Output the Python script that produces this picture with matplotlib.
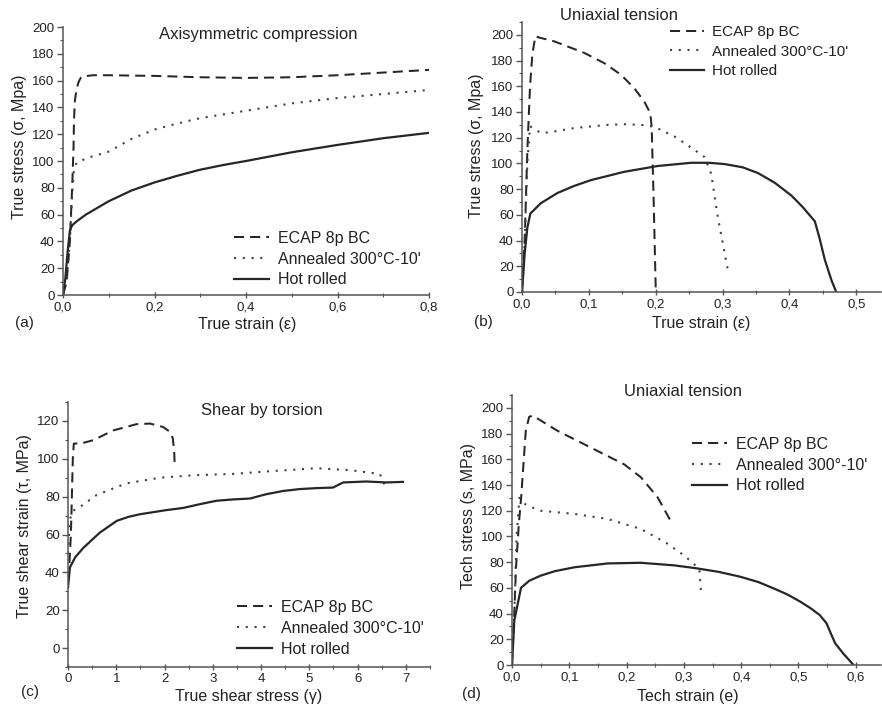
import matplotlib
matplotlib.use("Agg")
import matplotlib.pyplot as plt
from matplotlib.ticker import MultipleLocator, FuncFormatter

plt.rcParams['font.family'] = ['Liberation Sans', 'DejaVu Sans']

# ---------------- data ----------------
labels_abc = ["ECAP 8p BC", "Annealed 300°C-10'", "Hot rolled"]
labels_d = ["ECAP 8p BC", "Annealed 300°-10'", "Hot rolled"]

# (a) Axisymmetric compression
a_ecap_x = [0.0, 0.008, 0.015, 0.02, 0.023, 0.024, 0.026, 0.029, 0.033, 0.037, 0.041, 0.066, 0.1, 0.2, 0.3, 0.4, 0.5, 0.6, 0.7, 0.8]
a_ecap_y = [0, 10, 40, 80, 110, 130, 145, 152, 158, 161, 163, 164, 164, 163.5, 162.5, 162, 162.5, 164, 166, 168]
a_ann_x = [0.0, 0.008, 0.015, 0.02, 0.024, 0.03, 0.06, 0.1, 0.15, 0.2, 0.25, 0.3, 0.4, 0.5, 0.6, 0.7, 0.8]
a_ann_y = [0, 10, 40, 75, 94, 99, 103, 107, 116.5, 123.5, 128, 132, 137.5, 143, 147, 150, 153]
a_hr_x = [0.0, 0.005, 0.01, 0.015, 0.02, 0.03, 0.05, 0.075, 0.1, 0.15, 0.2, 0.25, 0.3, 0.35, 0.4, 0.5, 0.6, 0.7, 0.8]
a_hr_y = [0, 12, 32, 48, 52, 55, 60, 65, 70, 78, 84, 89, 93.5, 97, 100, 106.5, 112, 117, 121]

# (b) Uniaxial tension, true
b_ecap_x = [0.0, 0.004, 0.008, 0.012, 0.0155, 0.02, 0.025, 0.048, 0.093, 0.123, 0.148, 0.168, 0.183, 0.192, 0.194, 0.197, 0.2]
b_ecap_y = [0, 40, 110, 160, 185, 199, 198, 195, 186, 178, 169, 158.5, 148, 139, 128, 70, 3]
b_ann_x = [0.0, 0.004, 0.008, 0.012, 0.02, 0.03, 0.05, 0.078, 0.128, 0.153, 0.178, 0.198, 0.228, 0.258, 0.273, 0.283, 0.293, 0.308]
b_ann_y = [0, 40, 100, 129, 126, 123.5, 125, 127.5, 130, 130.5, 130, 128.5, 121, 110.5, 105, 92, 58, 17]
b_hr_x = [0.0, 0.004, 0.008, 0.0125, 0.028, 0.053, 0.078, 0.103, 0.153, 0.203, 0.253, 0.28, 0.303, 0.33, 0.353, 0.378, 0.403, 0.42, 0.438, 0.445, 0.453, 0.463, 0.47]
b_hr_y = [0, 30, 50, 61, 69, 77, 82.5, 87, 93.5, 98, 100.5, 100.5, 99.5, 97, 92.5, 85, 75, 66, 55, 42, 25, 9, 0]

# (c) Shear by torsion
c_ecap_x = [0.03, 0.06, 0.08, 0.1, 0.12, 0.3, 0.52, 0.94, 1.42, 1.7, 1.97, 2.1, 2.17, 2.2, 2.21]
c_ecap_y = [45, 60, 80, 100, 108, 108.3, 109.8, 115, 118.3, 118.6, 116.8, 114.5, 111, 104, 97]
c_ann_x = [0.0, 0.04, 0.1, 0.25, 0.59, 1.0, 1.21, 1.9, 2.6, 3.42, 4.11, 5.15, 5.84, 6.46, 6.6]
c_ann_y = [50, 68, 72.5, 74.6, 80.8, 85, 87, 90, 91.3, 92, 93.3, 95, 94, 92, 84]
c_hr_x = [0.0, 0.04, 0.15, 0.32, 0.66, 1.01, 1.25, 1.49, 2.04, 2.38, 2.73, 3.07, 3.4, 3.77, 4.11, 4.46, 4.8, 5.15, 5.49, 5.70, 6.18, 6.6, 6.94]
c_hr_y = [32, 42.6, 48, 53, 61, 67.2, 69.3, 70.7, 72.9, 74, 76, 77.8, 78.5, 79, 81.3, 83, 84, 84.5, 84.8, 87.5, 88, 87.5, 87.8]

# (d) Uniaxial tension, engineering
d_ecap_x = [0.0, 0.004, 0.007, 0.012, 0.016, 0.024, 0.03, 0.036, 0.08, 0.138, 0.196, 0.225, 0.254, 0.277]
d_ecap_y = [0, 40, 76, 110, 130.5, 182, 193, 194, 182, 169, 156, 146, 130.5, 112]
d_ann_x = [0.0, 0.004, 0.008, 0.013, 0.02, 0.027, 0.05, 0.109, 0.167, 0.225, 0.27, 0.299, 0.314, 0.327, 0.33]
d_ann_y = [0, 40, 100, 130, 126, 124, 120, 117.5, 113.6, 105.8, 94.7, 85.6, 80, 74.5, 55.8]
d_hr_x = [0.0, 0.004, 0.0157, 0.03, 0.05, 0.075, 0.109, 0.167, 0.225, 0.283, 0.322, 0.36, 0.398, 0.43, 0.456, 0.48, 0.503, 0.52, 0.537, 0.549, 0.556, 0.564, 0.578, 0.596]
d_hr_y = [0, 34.5, 60, 65.5, 69.5, 73, 76, 79, 79.5, 77.5, 75.2, 72.5, 68.7, 64.5, 59.7, 55, 49.3, 44.5, 38.9, 32.4, 25, 16.9, 9, 0]

# ---------------- style ----------------
W, H = 882, 708
fig = plt.figure(figsize=(W / 100, H / 100), dpi=100)
TXT = '#222222'
LINE = '#262626'
SPINE = '#555555'
styles = [dict(ls=(0, (5, 3)), lw=1.45, color=LINE),
          dict(ls=(0, (1, 3.2)), lw=1.5, color='#404040'),
          dict(ls='-', lw=1.6, color=LINE)]


def px_axes(left, right, top, bottom):
    return fig.add_axes([left / W, 1 - bottom / H, (right - left) / W, (bottom - top) / H])


def ftext(x, y, s, **kw):
    fig.text(x / W, 1 - y / H, s, ha=kw.pop('ha', 'center'), va=kw.pop('va', 'center'),
             color=TXT, **kw)


comma = FuncFormatter(lambda v, p: f"{v:.1f}".replace('.', ','))
intfmt = FuncFormatter(lambda v, p: f"{v:.0f}")


def setup(ax, xlim, ylim, xmaj, xmin, ymaj, ymin, xfmt, yticks):
    ax.set_xlim(*xlim)
    ax.set_ylim(*ylim)
    for s in ['top', 'right']:
        ax.spines[s].set_visible(False)
    for s in ['left', 'bottom']:
        ax.spines[s].set_color(SPINE)
        ax.spines[s].set_linewidth(1.1)
    ax.xaxis.set_major_locator(MultipleLocator(xmaj))
    ax.xaxis.set_minor_locator(MultipleLocator(xmin))
    ax.set_yticks(yticks)
    ax.yaxis.set_minor_locator(MultipleLocator(ymin))
    ax.xaxis.set_major_formatter(xfmt)
    ax.yaxis.set_major_formatter(intfmt)
    ax.tick_params(axis='x', which='major', direction='inout', length=5, width=1, color=SPINE,
                   labelsize=9.5, labelcolor=TXT, pad=2)
    ax.tick_params(axis='x', which='minor', direction='inout', length=3, width=0.8, color=SPINE)
    ax.tick_params(axis='y', which='major', direction='out', length=4, width=1, color=SPINE,
                   labelsize=9.5, labelcolor=TXT, pad=2)
    ax.tick_params(axis='y', which='minor', direction='out', length=2.5, width=0.8, color=SPINE)
    ax.patch.set_alpha(0)


def legend(ax, handles, labels, x, y, fs):
    ax.legend(handles, labels, loc='upper left', bbox_to_anchor=(x / W, 1 - y / H),
              bbox_transform=fig.transFigure, frameon=False, fontsize=fs,
              handlelength=2.2, handletextpad=0.55, labelspacing=0.36,
              borderpad=0, borderaxespad=0, labelcolor=TXT)


# ---- (a)
ax = px_axes(63, 429, 27, 295)
setup(ax, (0, 0.8), (0, 200), 0.2, 0.1, 20, 10, comma, list(range(0, 201, 20)))
h = [ax.plot(a_ecap_x, a_ecap_y, **styles[0])[0],
     ax.plot(a_ann_x, a_ann_y, **styles[1])[0],
     ax.plot(a_hr_x, a_hr_y, **styles[2])[0]]
legend(ax, h, labels_abc, 234, 231, 11.5)
ftext(258, 34, "Axisymmetric compression", fontsize=12)
ftext(247, 325, "True strain (ε)", fontsize=11.5)
ftext(20, 147, "True stress (σ, Mpa)", fontsize=11.5, rotation=90)
ftext(24, 323, "(a)", fontsize=11)

# ---- (b)
ax = px_axes(522, 881, 22, 292)
setup(ax, (0, 0.537), (0, 210), 0.1, 0.05, 20, 10, comma, list(range(0, 201, 20)))
h = [ax.plot(b_ecap_x, b_ecap_y, **styles[0])[0],
     ax.plot(b_ann_x, b_ann_y, **styles[1])[0],
     ax.plot(b_hr_x, b_hr_y, **styles[2])[0]]
legend(ax, h, labels_abc, 670, 25, 11)
ftext(619, 15, "Uniaxial tension", fontsize=12)
ftext(701, 323, "True strain (ε)", fontsize=11.5)
ftext(476, 146, "True stress (σ, Mpa)", fontsize=11.5, rotation=90)
ftext(483, 322, "(b)", fontsize=11)

# ---- (c)
ax = px_axes(68, 430, 402, 667)
setup(ax, (0, 7.5), (-10, 130), 1, 0.5, 20, 10, intfmt, list(range(0, 121, 20)))
h = [ax.plot(c_ecap_x, c_ecap_y, **styles[0])[0],
     ax.plot(c_ann_x, c_ann_y, **styles[1])[0],
     ax.plot(c_hr_x, c_hr_y, **styles[2])[0]]
legend(ax, h, labels_abc, 237, 600, 11.5)
ftext(262, 410, "Shear by torsion", fontsize=12)
ftext(249, 697, "True shear stress (γ)", fontsize=11.5)
ftext(25, 526, "True shear strain (τ, MPa)", fontsize=11.5, rotation=90)
ftext(30, 692, "(c)", fontsize=11)

# ---- (d)
ax = px_axes(512, 881, 395, 665)
setup(ax, (0, 0.644), (0, 210), 0.1, 0.05, 20, 10, comma, list(range(0, 201, 20)))
h = [ax.plot(d_ecap_x, d_ecap_y, **styles[0])[0],
     ax.plot(d_ann_x, d_ann_y, **styles[1])[0],
     ax.plot(d_hr_x, d_hr_y, **styles[2])[0]]
legend(ax, h, labels_d, 692, 437, 11.5)
ftext(683, 391, "Uniaxial tension", fontsize=12)
ftext(688, 696, "Tech strain (e)", fontsize=11.5)
ftext(468, 516, "Tech stress (s, MPa)", fontsize=11.5, rotation=90)
ftext(471, 694, "(d)", fontsize=11)

fig.savefig("out.png", dpi=100, facecolor='white')
